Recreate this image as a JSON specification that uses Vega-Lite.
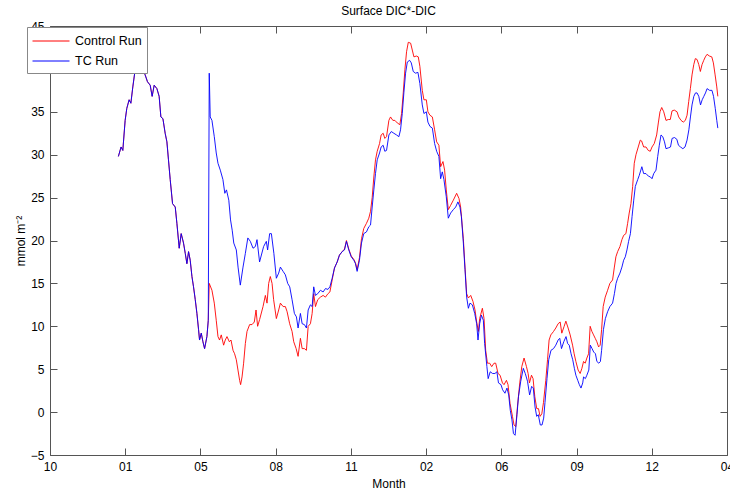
{
  "$schema": "https://vega.github.io/schema/vega-lite/v6.json",
  "width": 677,
  "height": 429,
  "autosize": {"type": "none"},
  "padding": {"left": 50, "top": 26, "right": 3, "bottom": 35},
  "background": "white",
  "title": {"text": "Surface DIC*-DIC", "fontSize": 12, "fontWeight": "normal", "font": "Liberation Sans", "color": "black", "offset": 2},
  "config": {"view": {"stroke": null}, "font": "Liberation Sans"},
  "data": {"values": [
    {"run":"Control Run","t":0.909,"v":29.8},{"run":"Control Run","t":0.945,"v":30.9},{"run":"Control Run","t":0.968,"v":30.5},{"run":"Control Run","t":0.999,"v":34.0},{"run":"Control Run","t":1.021,"v":35.4},{"run":"Control Run","t":1.052,"v":36.4},{"run":"Control Run","t":1.075,"v":36.0},{"run":"Control Run","t":1.101,"v":37.9},{"run":"Control Run","t":1.132,"v":39.9},{"run":"Control Run","t":1.165,"v":41.6},{"run":"Control Run","t":1.198,"v":41.9},{"run":"Control Run","t":1.234,"v":39.9},{"run":"Control Run","t":1.265,"v":39.3},{"run":"Control Run","t":1.296,"v":38.5},{"run":"Control Run","t":1.332,"v":38.1},{"run":"Control Run","t":1.358,"v":36.8},{"run":"Control Run","t":1.385,"v":38.1},{"run":"Control Run","t":1.421,"v":37.7},{"run":"Control Run","t":1.451,"v":36.8},{"run":"Control Run","t":1.474,"v":34.4},{"run":"Control Run","t":1.501,"v":34.2},{"run":"Control Run","t":1.531,"v":32.5},{"run":"Control Run","t":1.554,"v":31.5},{"run":"Control Run","t":1.575,"v":29.4},{"run":"Control Run","t":1.598,"v":27.1},{"run":"Control Run","t":1.629,"v":24.3},{"run":"Control Run","t":1.665,"v":23.9},{"run":"Control Run","t":1.687,"v":22.0},{"run":"Control Run","t":1.718,"v":19.1},{"run":"Control Run","t":1.744,"v":20.8},{"run":"Control Run","t":1.775,"v":19.7},{"run":"Control Run","t":1.798,"v":18.5},{"run":"Control Run","t":1.820,"v":17.3},{"run":"Control Run","t":1.842,"v":18.7},{"run":"Control Run","t":1.864,"v":17.7},{"run":"Control Run","t":1.887,"v":15.8},{"run":"Control Run","t":1.908,"v":14.6},{"run":"Control Run","t":1.931,"v":13.1},{"run":"Control Run","t":1.953,"v":11.5},{"run":"Control Run","t":1.975,"v":9.6},{"run":"Control Run","t":1.988,"v":8.4},{"run":"Control Run","t":2.011,"v":9.2},{"run":"Control Run","t":2.033,"v":8.2},{"run":"Control Run","t":2.055,"v":7.4},{"run":"Control Run","t":2.086,"v":8.8},{"run":"Control Run","t":2.104,"v":10.7},
    {"run":"Control Run","t":2.117,"v":15.0},{"run":"Control Run","t":2.153,"v":14.2},{"run":"Control Run","t":2.184,"v":12.7},{"run":"Control Run","t":2.210,"v":10.7},{"run":"Control Run","t":2.233,"v":8.8},{"run":"Control Run","t":2.254,"v":8.4},{"run":"Control Run","t":2.277,"v":9.0},{"run":"Control Run","t":2.308,"v":7.8},{"run":"Control Run","t":2.330,"v":8.4},{"run":"Control Run","t":2.353,"v":8.8},{"run":"Control Run","t":2.384,"v":8.2},{"run":"Control Run","t":2.406,"v":8.4},{"run":"Control Run","t":2.433,"v":7.2},{"run":"Control Run","t":2.454,"v":6.8},{"run":"Control Run","t":2.477,"v":6.1},{"run":"Control Run","t":2.499,"v":4.9},{"run":"Control Run","t":2.521,"v":3.7},{"run":"Control Run","t":2.534,"v":3.2},{"run":"Control Run","t":2.553,"v":4.1},{"run":"Control Run","t":2.574,"v":5.7},{"run":"Control Run","t":2.597,"v":8.0},{"run":"Control Run","t":2.619,"v":9.4},{"run":"Control Run","t":2.654,"v":10.2},{"run":"Control Run","t":2.686,"v":10.2},{"run":"Control Run","t":2.716,"v":10.5},{"run":"Control Run","t":2.739,"v":11.9},{"run":"Control Run","t":2.760,"v":10.0},{"run":"Control Run","t":2.787,"v":10.8},{"run":"Control Run","t":2.832,"v":12.3},{"run":"Control Run","t":2.863,"v":13.6},{"run":"Control Run","t":2.885,"v":12.7},{"run":"Control Run","t":2.907,"v":15.0},{"run":"Control Run","t":2.929,"v":15.8},{"run":"Control Run","t":2.952,"v":15.0},{"run":"Control Run","t":2.973,"v":13.1},{"run":"Control Run","t":3.009,"v":10.9},{"run":"Control Run","t":3.040,"v":11.9},{"run":"Control Run","t":3.063,"v":12.7},{"run":"Control Run","t":3.099,"v":12.3},{"run":"Control Run","t":3.129,"v":12.3},{"run":"Control Run","t":3.152,"v":11.7},{"run":"Control Run","t":3.186,"v":10.3},{"run":"Control Run","t":3.218,"v":9.4},{"run":"Control Run","t":3.240,"v":8.2},{"run":"Control Run","t":3.272,"v":7.4},{"run":"Control Run","t":3.298,"v":6.5},{"run":"Control Run","t":3.329,"v":8.6},{"run":"Control Run","t":3.352,"v":7.4},{"run":"Control Run","t":3.382,"v":7.4},{"run":"Control Run","t":3.409,"v":7.2},{"run":"Control Run","t":3.432,"v":10.0},{"run":"Control Run","t":3.462,"v":10.3},{"run":"Control Run","t":3.485,"v":11.5},{"run":"Control Run","t":3.506,"v":13.8},{"run":"Control Run","t":3.529,"v":12.3},{"run":"Control Run","t":3.559,"v":13.1},{"run":"Control Run","t":3.595,"v":13.4},{"run":"Control Run","t":3.631,"v":13.6},{"run":"Control Run","t":3.662,"v":13.4},{"run":"Control Run","t":3.695,"v":13.8},{"run":"Control Run","t":3.721,"v":14.0},{"run":"Control Run","t":3.751,"v":15.4},{"run":"Control Run","t":3.782,"v":16.8},{"run":"Control Run","t":3.818,"v":17.5},{"run":"Control Run","t":3.848,"v":18.3},{"run":"Control Run","t":3.884,"v":18.7},{"run":"Control Run","t":3.915,"v":19.0},{"run":"Control Run","t":3.941,"v":20.0},{"run":"Control Run","t":3.972,"v":19.0},{"run":"Control Run","t":4.004,"v":18.2},{"run":"Control Run","t":4.039,"v":17.8},{"run":"Control Run","t":4.061,"v":17.4},{"run":"Control Run","t":4.083,"v":16.6},{"run":"Control Run","t":4.114,"v":18.0},{"run":"Control Run","t":4.141,"v":20.2},{"run":"Control Run","t":4.171,"v":21.4},{"run":"Control Run","t":4.207,"v":22.0},{"run":"Control Run","t":4.238,"v":22.6},{"run":"Control Run","t":4.261,"v":23.4},{"run":"Control Run","t":4.283,"v":25.0},{"run":"Control Run","t":4.305,"v":27.4},{"run":"Control Run","t":4.327,"v":29.4},{"run":"Control Run","t":4.350,"v":30.4},{"run":"Control Run","t":4.381,"v":31.3},{"run":"Control Run","t":4.402,"v":32.3},{"run":"Control Run","t":4.429,"v":32.5},{"run":"Control Run","t":4.451,"v":31.9},{"run":"Control Run","t":4.474,"v":32.1},{"run":"Control Run","t":4.505,"v":34.0},{"run":"Control Run","t":4.527,"v":34.4},{"run":"Control Run","t":4.558,"v":34.0},{"run":"Control Run","t":4.585,"v":34.0},{"run":"Control Run","t":4.617,"v":33.7},{"run":"Control Run","t":4.651,"v":33.5},{"run":"Control Run","t":4.674,"v":34.8},{"run":"Control Run","t":4.696,"v":37.2},{"run":"Control Run","t":4.718,"v":39.9},{"run":"Control Run","t":4.740,"v":42.0},{"run":"Control Run","t":4.763,"v":43.1},{"run":"Control Run","t":4.794,"v":43.0},{"run":"Control Run","t":4.816,"v":42.2},{"run":"Control Run","t":4.838,"v":41.4},{"run":"Control Run","t":4.870,"v":41.5},{"run":"Control Run","t":4.896,"v":41.4},{"run":"Control Run","t":4.917,"v":40.3},{"run":"Control Run","t":4.949,"v":37.5},{"run":"Control Run","t":4.971,"v":36.4},{"run":"Control Run","t":5.003,"v":36.4},{"run":"Control Run","t":5.024,"v":35.0},{"run":"Control Run","t":5.051,"v":34.6},{"run":"Control Run","t":5.083,"v":34.4},{"run":"Control Run","t":5.113,"v":32.9},{"run":"Control Run","t":5.140,"v":31.5},{"run":"Control Run","t":5.170,"v":31.1},{"run":"Control Run","t":5.193,"v":28.6},{"run":"Control Run","t":5.224,"v":29.2},{"run":"Control Run","t":5.246,"v":28.2},{"run":"Control Run","t":5.268,"v":25.9},{"run":"Control Run","t":5.295,"v":23.6},{"run":"Control Run","t":5.326,"v":24.1},{"run":"Control Run","t":5.362,"v":24.7},{"run":"Control Run","t":5.406,"v":25.5},{"run":"Control Run","t":5.437,"v":24.9},{"run":"Control Run","t":5.459,"v":23.9},{"run":"Control Run","t":5.495,"v":20.2},{"run":"Control Run","t":5.517,"v":16.9},{"run":"Control Run","t":5.539,"v":13.8},{"run":"Control Run","t":5.562,"v":13.3},{"run":"Control Run","t":5.593,"v":13.6},{"run":"Control Run","t":5.623,"v":12.9},{"run":"Control Run","t":5.650,"v":11.9},{"run":"Control Run","t":5.672,"v":10.5},{"run":"Control Run","t":5.695,"v":9.4},{"run":"Control Run","t":5.712,"v":10.9},{"run":"Control Run","t":5.748,"v":12.1},{"run":"Control Run","t":5.770,"v":10.9},{"run":"Control Run","t":5.792,"v":7.2},{"run":"Control Run","t":5.815,"v":5.7},{"run":"Control Run","t":5.845,"v":5.7},{"run":"Control Run","t":5.872,"v":5.3},{"run":"Control Run","t":5.903,"v":5.7},{"run":"Control Run","t":5.925,"v":5.7},{"run":"Control Run","t":5.956,"v":4.5},{"run":"Control Run","t":5.983,"v":4.3},{"run":"Control Run","t":6.015,"v":3.4},{"run":"Control Run","t":6.036,"v":3.2},{"run":"Control Run","t":6.068,"v":3.7},{"run":"Control Run","t":6.089,"v":3.2},{"run":"Control Run","t":6.116,"v":1.0},{"run":"Control Run","t":6.148,"v":-0.5},{"run":"Control Run","t":6.169,"v":-1.5},{"run":"Control Run","t":6.192,"v":-1.7},{"run":"Control Run","t":6.214,"v":0.6},{"run":"Control Run","t":6.245,"v":3.4},{"run":"Control Run","t":6.272,"v":5.3},{"run":"Control Run","t":6.302,"v":6.3},{"run":"Control Run","t":6.334,"v":5.3},{"run":"Control Run","t":6.356,"v":4.5},{"run":"Control Run","t":6.374,"v":3.4},{"run":"Control Run","t":6.401,"v":4.3},{"run":"Control Run","t":6.422,"v":3.9},{"run":"Control Run","t":6.445,"v":1.8},{"run":"Control Run","t":6.471,"v":0.4},{"run":"Control Run","t":6.494,"v":0.4},{"run":"Control Run","t":6.515,"v":-0.5},{"run":"Control Run","t":6.538,"v":-0.2},{"run":"Control Run","t":6.560,"v":1.1},{"run":"Control Run","t":6.591,"v":3.7},{"run":"Control Run","t":6.614,"v":6.1},{"run":"Control Run","t":6.635,"v":8.4},{"run":"Control Run","t":6.658,"v":9.0},{"run":"Control Run","t":6.694,"v":9.4},{"run":"Control Run","t":6.724,"v":9.8},{"run":"Control Run","t":6.755,"v":10.3},{"run":"Control Run","t":6.782,"v":10.5},{"run":"Control Run","t":6.804,"v":9.2},{"run":"Control Run","t":6.835,"v":10.0},{"run":"Control Run","t":6.858,"v":10.6},{"run":"Control Run","t":6.888,"v":9.8},{"run":"Control Run","t":6.915,"v":9.0},{"run":"Control Run","t":6.947,"v":7.8},{"run":"Control Run","t":6.968,"v":6.8},{"run":"Control Run","t":6.991,"v":5.9},{"run":"Control Run","t":7.021,"v":4.9},{"run":"Control Run","t":7.048,"v":4.5},{"run":"Control Run","t":7.071,"v":5.1},{"run":"Control Run","t":7.093,"v":5.9},{"run":"Control Run","t":7.115,"v":5.7},{"run":"Control Run","t":7.137,"v":6.3},{"run":"Control Run","t":7.160,"v":6.8},{"run":"Control Run","t":7.181,"v":10.0},{"run":"Control Run","t":7.204,"v":9.4},{"run":"Control Run","t":7.226,"v":9.0},{"run":"Control Run","t":7.248,"v":8.6},{"run":"Control Run","t":7.270,"v":8.2},{"run":"Control Run","t":7.293,"v":7.6},{"run":"Control Run","t":7.314,"v":7.8},{"run":"Control Run","t":7.333,"v":9.6},{"run":"Control Run","t":7.354,"v":12.3},{"run":"Control Run","t":7.381,"v":13.4},{"run":"Control Run","t":7.413,"v":14.2},{"run":"Control Run","t":7.443,"v":15.0},{"run":"Control Run","t":7.479,"v":15.4},{"run":"Control Run","t":7.501,"v":16.8},{"run":"Control Run","t":7.523,"v":18.1},{"run":"Control Run","t":7.546,"v":18.7},{"run":"Control Run","t":7.577,"v":19.3},{"run":"Control Run","t":7.603,"v":20.1},{"run":"Control Run","t":7.626,"v":20.6},{"run":"Control Run","t":7.656,"v":20.8},{"run":"Control Run","t":7.679,"v":22.0},{"run":"Control Run","t":7.700,"v":23.2},{"run":"Control Run","t":7.723,"v":24.3},{"run":"Control Run","t":7.746,"v":26.3},{"run":"Control Run","t":7.767,"v":29.0},{"run":"Control Run","t":7.790,"v":30.0},{"run":"Control Run","t":7.820,"v":30.9},{"run":"Control Run","t":7.847,"v":31.7},{"run":"Control Run","t":7.865,"v":31.6},{"run":"Control Run","t":7.892,"v":30.9},{"run":"Control Run","t":7.923,"v":30.9},{"run":"Control Run","t":7.953,"v":30.5},{"run":"Control Run","t":7.980,"v":30.4},{"run":"Control Run","t":8.003,"v":30.9},{"run":"Control Run","t":8.033,"v":31.3},{"run":"Control Run","t":8.065,"v":32.3},{"run":"Control Run","t":8.087,"v":33.7},{"run":"Control Run","t":8.109,"v":35.0},{"run":"Control Run","t":8.132,"v":35.5},{"run":"Control Run","t":8.159,"v":35.0},{"run":"Control Run","t":8.189,"v":34.0},{"run":"Control Run","t":8.220,"v":34.1},{"run":"Control Run","t":8.246,"v":34.1},{"run":"Control Run","t":8.269,"v":35.1},{"run":"Control Run","t":8.299,"v":35.2},{"run":"Control Run","t":8.336,"v":35.0},{"run":"Control Run","t":8.358,"v":34.4},{"run":"Control Run","t":8.389,"v":34.0},{"run":"Control Run","t":8.419,"v":33.8},{"run":"Control Run","t":8.446,"v":34.0},{"run":"Control Run","t":8.469,"v":34.6},{"run":"Control Run","t":8.491,"v":36.2},{"run":"Control Run","t":8.513,"v":37.7},{"run":"Control Run","t":8.535,"v":39.3},{"run":"Control Run","t":8.558,"v":40.5},{"run":"Control Run","t":8.579,"v":41.2},{"run":"Control Run","t":8.602,"v":41.1},{"run":"Control Run","t":8.625,"v":40.5},{"run":"Control Run","t":8.646,"v":39.7},{"run":"Control Run","t":8.668,"v":40.5},{"run":"Control Run","t":8.691,"v":41.0},{"run":"Control Run","t":8.712,"v":41.4},{"run":"Control Run","t":8.735,"v":41.7},{"run":"Control Run","t":8.766,"v":41.5},{"run":"Control Run","t":8.798,"v":41.4},{"run":"Control Run","t":8.819,"v":40.7},{"run":"Control Run","t":8.842,"v":39.3},{"run":"Control Run","t":8.864,"v":37.9},{"run":"Control Run","t":8.878,"v":36.8},
    {"run":"TC Run","t":0.909,"v":29.8},{"run":"TC Run","t":0.945,"v":30.9},{"run":"TC Run","t":0.968,"v":30.5},{"run":"TC Run","t":0.999,"v":34.0},{"run":"TC Run","t":1.021,"v":35.4},{"run":"TC Run","t":1.052,"v":36.4},{"run":"TC Run","t":1.075,"v":36.0},{"run":"TC Run","t":1.101,"v":37.9},{"run":"TC Run","t":1.132,"v":39.9},{"run":"TC Run","t":1.165,"v":41.6},{"run":"TC Run","t":1.198,"v":41.9},{"run":"TC Run","t":1.234,"v":39.9},{"run":"TC Run","t":1.265,"v":39.3},{"run":"TC Run","t":1.296,"v":38.5},{"run":"TC Run","t":1.332,"v":38.1},{"run":"TC Run","t":1.358,"v":36.8},{"run":"TC Run","t":1.385,"v":38.1},{"run":"TC Run","t":1.421,"v":37.7},{"run":"TC Run","t":1.451,"v":36.8},{"run":"TC Run","t":1.474,"v":34.4},{"run":"TC Run","t":1.501,"v":34.2},{"run":"TC Run","t":1.531,"v":32.5},{"run":"TC Run","t":1.554,"v":31.5},{"run":"TC Run","t":1.575,"v":29.4},{"run":"TC Run","t":1.598,"v":27.1},{"run":"TC Run","t":1.629,"v":24.3},{"run":"TC Run","t":1.665,"v":23.9},{"run":"TC Run","t":1.687,"v":22.0},{"run":"TC Run","t":1.718,"v":19.1},{"run":"TC Run","t":1.744,"v":20.8},{"run":"TC Run","t":1.775,"v":19.7},{"run":"TC Run","t":1.798,"v":18.5},{"run":"TC Run","t":1.820,"v":17.3},{"run":"TC Run","t":1.842,"v":18.7},{"run":"TC Run","t":1.864,"v":17.7},{"run":"TC Run","t":1.887,"v":15.8},{"run":"TC Run","t":1.908,"v":14.6},{"run":"TC Run","t":1.931,"v":13.1},{"run":"TC Run","t":1.953,"v":11.5},{"run":"TC Run","t":1.975,"v":9.6},{"run":"TC Run","t":1.988,"v":8.4},{"run":"TC Run","t":2.011,"v":9.2},{"run":"TC Run","t":2.033,"v":8.2},{"run":"TC Run","t":2.055,"v":7.4},{"run":"TC Run","t":2.086,"v":8.8},{"run":"TC Run","t":2.104,"v":10.7},
    {"run":"TC Run","t":2.117,"v":39.5},{"run":"TC Run","t":2.130,"v":34.4},{"run":"TC Run","t":2.153,"v":34.0},{"run":"TC Run","t":2.184,"v":32.1},{"run":"TC Run","t":2.210,"v":30.2},{"run":"TC Run","t":2.233,"v":29.0},{"run":"TC Run","t":2.264,"v":28.2},{"run":"TC Run","t":2.299,"v":27.1},{"run":"TC Run","t":2.324,"v":25.5},{"run":"TC Run","t":2.346,"v":25.9},{"run":"TC Run","t":2.377,"v":24.7},{"run":"TC Run","t":2.400,"v":22.4},{"run":"TC Run","t":2.422,"v":21.2},{"run":"TC Run","t":2.443,"v":19.7},{"run":"TC Run","t":2.477,"v":18.9},{"run":"TC Run","t":2.500,"v":16.9},{"run":"TC Run","t":2.530,"v":14.8},{"run":"TC Run","t":2.566,"v":16.9},{"run":"TC Run","t":2.597,"v":18.5},{"run":"TC Run","t":2.630,"v":20.3},{"run":"TC Run","t":2.663,"v":19.9},{"run":"TC Run","t":2.699,"v":19.1},{"run":"TC Run","t":2.730,"v":19.3},{"run":"TC Run","t":2.752,"v":20.1},{"run":"TC Run","t":2.786,"v":17.5},{"run":"TC Run","t":2.840,"v":19.3},{"run":"TC Run","t":2.876,"v":19.9},{"run":"TC Run","t":2.893,"v":18.9},{"run":"TC Run","t":2.920,"v":20.8},{"run":"TC Run","t":2.943,"v":20.8},{"run":"TC Run","t":2.976,"v":18.5},{"run":"TC Run","t":3.009,"v":15.6},{"run":"TC Run","t":3.040,"v":16.2},{"run":"TC Run","t":3.063,"v":16.9},{"run":"TC Run","t":3.099,"v":16.4},{"run":"TC Run","t":3.129,"v":16.0},{"run":"TC Run","t":3.160,"v":15.0},{"run":"TC Run","t":3.187,"v":14.6},{"run":"TC Run","t":3.218,"v":13.1},{"run":"TC Run","t":3.249,"v":11.5},{"run":"TC Run","t":3.276,"v":11.1},{"run":"TC Run","t":3.298,"v":9.8},{"run":"TC Run","t":3.329,"v":11.5},{"run":"TC Run","t":3.352,"v":10.3},{"run":"TC Run","t":3.382,"v":10.2},{"run":"TC Run","t":3.409,"v":9.8},{"run":"TC Run","t":3.432,"v":11.9},{"run":"TC Run","t":3.462,"v":12.5},{"run":"TC Run","t":3.485,"v":12.3},{"run":"TC Run","t":3.506,"v":14.6},{"run":"TC Run","t":3.529,"v":13.6},{"run":"TC Run","t":3.559,"v":13.8},{"run":"TC Run","t":3.595,"v":14.2},{"run":"TC Run","t":3.631,"v":14.0},{"run":"TC Run","t":3.662,"v":14.4},{"run":"TC Run","t":3.695,"v":14.3},{"run":"TC Run","t":3.721,"v":14.6},{"run":"TC Run","t":3.751,"v":15.6},{"run":"TC Run","t":3.782,"v":16.8},{"run":"TC Run","t":3.818,"v":17.5},{"run":"TC Run","t":3.848,"v":18.3},{"run":"TC Run","t":3.884,"v":18.7},{"run":"TC Run","t":3.915,"v":18.9},{"run":"TC Run","t":3.941,"v":19.9},{"run":"TC Run","t":3.972,"v":18.9},{"run":"TC Run","t":4.004,"v":18.1},{"run":"TC Run","t":4.039,"v":17.7},{"run":"TC Run","t":4.061,"v":17.3},{"run":"TC Run","t":4.083,"v":16.4},{"run":"TC Run","t":4.114,"v":17.7},{"run":"TC Run","t":4.141,"v":19.7},{"run":"TC Run","t":4.171,"v":20.8},{"run":"TC Run","t":4.207,"v":21.0},{"run":"TC Run","t":4.238,"v":21.6},{"run":"TC Run","t":4.261,"v":21.8},{"run":"TC Run","t":4.283,"v":23.9},{"run":"TC Run","t":4.305,"v":25.9},{"run":"TC Run","t":4.327,"v":27.8},{"run":"TC Run","t":4.350,"v":29.4},{"run":"TC Run","t":4.381,"v":30.2},{"run":"TC Run","t":4.402,"v":30.9},{"run":"TC Run","t":4.429,"v":31.1},{"run":"TC Run","t":4.451,"v":30.4},{"run":"TC Run","t":4.474,"v":30.5},{"run":"TC Run","t":4.505,"v":32.3},{"run":"TC Run","t":4.537,"v":32.7},{"run":"TC Run","t":4.571,"v":32.5},{"run":"TC Run","t":4.607,"v":32.3},{"run":"TC Run","t":4.638,"v":32.1},{"run":"TC Run","t":4.660,"v":32.9},{"run":"TC Run","t":4.683,"v":34.8},{"run":"TC Run","t":4.704,"v":37.2},{"run":"TC Run","t":4.727,"v":39.5},{"run":"TC Run","t":4.750,"v":40.8},{"run":"TC Run","t":4.781,"v":41.0},{"run":"TC Run","t":4.803,"v":40.7},{"run":"TC Run","t":4.829,"v":39.7},{"run":"TC Run","t":4.860,"v":39.5},{"run":"TC Run","t":4.891,"v":39.6},{"run":"TC Run","t":4.917,"v":38.3},{"run":"TC Run","t":4.949,"v":35.8},{"run":"TC Run","t":4.971,"v":34.8},{"run":"TC Run","t":5.003,"v":35.0},{"run":"TC Run","t":5.024,"v":33.8},{"run":"TC Run","t":5.051,"v":33.3},{"run":"TC Run","t":5.083,"v":33.1},{"run":"TC Run","t":5.113,"v":31.3},{"run":"TC Run","t":5.140,"v":30.4},{"run":"TC Run","t":5.170,"v":29.8},{"run":"TC Run","t":5.193,"v":27.2},{"run":"TC Run","t":5.215,"v":28.0},{"run":"TC Run","t":5.237,"v":27.1},{"run":"TC Run","t":5.268,"v":25.1},{"run":"TC Run","t":5.295,"v":22.6},{"run":"TC Run","t":5.326,"v":23.2},{"run":"TC Run","t":5.362,"v":23.6},{"run":"TC Run","t":5.393,"v":23.9},{"run":"TC Run","t":5.423,"v":24.5},{"run":"TC Run","t":5.450,"v":23.9},{"run":"TC Run","t":5.469,"v":22.8},{"run":"TC Run","t":5.495,"v":19.7},{"run":"TC Run","t":5.517,"v":16.6},{"run":"TC Run","t":5.539,"v":13.4},{"run":"TC Run","t":5.562,"v":12.1},{"run":"TC Run","t":5.583,"v":12.7},{"run":"TC Run","t":5.615,"v":12.5},{"run":"TC Run","t":5.646,"v":11.5},{"run":"TC Run","t":5.672,"v":10.3},{"run":"TC Run","t":5.690,"v":8.4},{"run":"TC Run","t":5.712,"v":10.3},{"run":"TC Run","t":5.735,"v":11.3},{"run":"TC Run","t":5.761,"v":10.7},{"run":"TC Run","t":5.778,"v":8.0},{"run":"TC Run","t":5.808,"v":5.3},{"run":"TC Run","t":5.825,"v":3.9},{"run":"TC Run","t":5.852,"v":4.7},{"run":"TC Run","t":5.884,"v":4.5},{"run":"TC Run","t":5.915,"v":4.5},{"run":"TC Run","t":5.941,"v":4.7},{"run":"TC Run","t":5.962,"v":3.4},{"run":"TC Run","t":5.995,"v":3.2},{"run":"TC Run","t":6.017,"v":2.6},{"run":"TC Run","t":6.048,"v":2.2},{"run":"TC Run","t":6.075,"v":2.8},{"run":"TC Run","t":6.098,"v":2.0},{"run":"TC Run","t":6.119,"v":0.2},{"run":"TC Run","t":6.141,"v":-0.9},{"run":"TC Run","t":6.161,"v":-2.5},{"run":"TC Run","t":6.183,"v":-2.7},{"run":"TC Run","t":6.208,"v":-0.3},{"run":"TC Run","t":6.228,"v":1.8},{"run":"TC Run","t":6.258,"v":3.6},{"run":"TC Run","t":6.292,"v":5.1},{"run":"TC Run","t":6.318,"v":4.5},{"run":"TC Run","t":6.348,"v":3.6},{"run":"TC Run","t":6.376,"v":2.0},{"run":"TC Run","t":6.403,"v":3.0},{"run":"TC Run","t":6.425,"v":2.8},{"run":"TC Run","t":6.448,"v":0.6},{"run":"TC Run","t":6.470,"v":-0.5},{"run":"TC Run","t":6.491,"v":-0.3},{"run":"TC Run","t":6.518,"v":-1.5},{"run":"TC Run","t":6.541,"v":-1.5},{"run":"TC Run","t":6.563,"v":-0.7},{"run":"TC Run","t":6.580,"v":1.1},{"run":"TC Run","t":6.607,"v":3.9},{"run":"TC Run","t":6.630,"v":6.1},{"run":"TC Run","t":6.660,"v":7.2},{"run":"TC Run","t":6.694,"v":7.4},{"run":"TC Run","t":6.724,"v":7.8},{"run":"TC Run","t":6.755,"v":8.4},{"run":"TC Run","t":6.777,"v":8.6},{"run":"TC Run","t":6.800,"v":7.4},{"run":"TC Run","t":6.830,"v":8.2},{"run":"TC Run","t":6.860,"v":8.8},{"run":"TC Run","t":6.881,"v":8.0},{"run":"TC Run","t":6.903,"v":7.8},{"run":"TC Run","t":6.927,"v":6.8},{"run":"TC Run","t":6.949,"v":6.1},{"run":"TC Run","t":6.971,"v":5.1},{"run":"TC Run","t":6.991,"v":4.3},{"run":"TC Run","t":7.016,"v":3.7},{"run":"TC Run","t":7.037,"v":3.2},{"run":"TC Run","t":7.059,"v":2.8},{"run":"TC Run","t":7.082,"v":3.4},{"run":"TC Run","t":7.093,"v":4.1},{"run":"TC Run","t":7.117,"v":3.9},{"run":"TC Run","t":7.137,"v":4.3},{"run":"TC Run","t":7.163,"v":4.9},{"run":"TC Run","t":7.183,"v":7.8},{"run":"TC Run","t":7.206,"v":7.4},{"run":"TC Run","t":7.228,"v":7.0},{"run":"TC Run","t":7.251,"v":6.8},{"run":"TC Run","t":7.270,"v":5.9},{"run":"TC Run","t":7.296,"v":5.7},{"run":"TC Run","t":7.317,"v":5.9},{"run":"TC Run","t":7.333,"v":7.2},{"run":"TC Run","t":7.357,"v":9.6},{"run":"TC Run","t":7.383,"v":10.9},{"run":"TC Run","t":7.413,"v":11.7},{"run":"TC Run","t":7.443,"v":12.3},{"run":"TC Run","t":7.479,"v":12.7},{"run":"TC Run","t":7.503,"v":13.8},{"run":"TC Run","t":7.525,"v":15.0},{"run":"TC Run","t":7.546,"v":15.6},{"run":"TC Run","t":7.577,"v":16.2},{"run":"TC Run","t":7.603,"v":16.9},{"run":"TC Run","t":7.626,"v":17.7},{"run":"TC Run","t":7.648,"v":18.1},{"run":"TC Run","t":7.670,"v":18.9},{"run":"TC Run","t":7.692,"v":19.9},{"run":"TC Run","t":7.716,"v":20.8},{"run":"TC Run","t":7.738,"v":22.8},{"run":"TC Run","t":7.760,"v":24.7},{"run":"TC Run","t":7.781,"v":26.3},{"run":"TC Run","t":7.813,"v":27.1},{"run":"TC Run","t":7.834,"v":27.6},{"run":"TC Run","t":7.868,"v":28.6},{"run":"TC Run","t":7.892,"v":27.8},{"run":"TC Run","t":7.923,"v":27.8},{"run":"TC Run","t":7.955,"v":27.5},{"run":"TC Run","t":7.983,"v":27.4},{"run":"TC Run","t":8.003,"v":27.2},{"run":"TC Run","t":8.026,"v":27.8},{"run":"TC Run","t":8.056,"v":28.2},{"run":"TC Run","t":8.079,"v":29.8},{"run":"TC Run","t":8.100,"v":31.1},{"run":"TC Run","t":8.123,"v":32.3},{"run":"TC Run","t":8.146,"v":32.1},{"run":"TC Run","t":8.169,"v":31.5},{"run":"TC Run","t":8.189,"v":30.7},{"run":"TC Run","t":8.222,"v":30.8},{"run":"TC Run","t":8.249,"v":30.9},{"run":"TC Run","t":8.270,"v":31.9},{"run":"TC Run","t":8.302,"v":32.0},{"run":"TC Run","t":8.333,"v":31.8},{"run":"TC Run","t":8.355,"v":31.1},{"run":"TC Run","t":8.382,"v":30.9},{"run":"TC Run","t":8.413,"v":30.7},{"run":"TC Run","t":8.442,"v":30.9},{"run":"TC Run","t":8.469,"v":31.7},{"run":"TC Run","t":8.493,"v":32.9},{"run":"TC Run","t":8.514,"v":34.4},{"run":"TC Run","t":8.535,"v":35.8},{"run":"TC Run","t":8.559,"v":36.8},{"run":"TC Run","t":8.581,"v":37.2},{"run":"TC Run","t":8.602,"v":37.2},{"run":"TC Run","t":8.625,"v":36.8},{"run":"TC Run","t":8.648,"v":35.8},{"run":"TC Run","t":8.670,"v":36.4},{"run":"TC Run","t":8.692,"v":36.8},{"run":"TC Run","t":8.714,"v":37.2},{"run":"TC Run","t":8.735,"v":37.7},{"run":"TC Run","t":8.768,"v":37.5},{"run":"TC Run","t":8.800,"v":37.5},{"run":"TC Run","t":8.821,"v":36.8},{"run":"TC Run","t":8.844,"v":35.4},{"run":"TC Run","t":8.864,"v":34.0},{"run":"TC Run","t":8.878,"v":33.1}
  ]},
  "layer": [
    {
      "transform": [{"filter": "datum.run === 'Control Run'"}],
      "mark": {"type": "line", "strokeWidth": 0.9, "clip": true},
      "encoding": {
        "x": {"field": "t", "type": "quantitative", "scale": {"domain": [0, 9], "nice": false, "zero": false},
          "axis": {"orient": "bottom", "values": [0,1,2,3,4,5,6,7,8,9], "labelExpr": "['10','01','05','08','11','02','06','09','12','04'][datum.value]", "tickSize": -7, "domainColor": "#555", "tickColor": "#555", "labelColor": "black", "labelFontSize": 12, "labelFont": "Liberation Sans", "labelPadding": 13, "labelFlush": false, "labelOverlap": false, "labelBound": false, "grid": false, "title": "Month", "titleFont": "Liberation Sans", "titleFontSize": 12, "titleFontWeight": "normal", "titleColor": "black", "titlePadding": 6}},
        "y": {"field": "v", "type": "quantitative", "scale": {"domain": [-5, 45], "nice": false, "zero": false},
          "axis": {"orient": "left", "values": [-5,0,5,10,15,20,25,30,35,40,45], "tickSize": -7, "domainColor": "#555", "tickColor": "#555", "labelColor": "black", "labelFontSize": 12, "labelFont": "Liberation Sans", "labelPadding": 13, "labelFlush": false, "labelOverlap": false, "labelBound": false, "grid": false, "title": "mmol m⁻²", "titleFont": "Liberation Sans", "titleFontSize": 12, "titleFontWeight": "normal", "titleColor": "black", "titlePadding": 3}},
        "color": {"field": "run", "type": "nominal", "scale": {"domain": ["Control Run", "TC Run"], "range": ["#ff0000", "#0000ff"]},
          "legend": {"title": null, "orient": "none", "legendX": -23, "legendY": 1, "direction": "vertical", "symbolType": "stroke", "symbolSize": 1369, "symbolStrokeWidth": 1, "labelFontSize": 12.5, "labelFont": "Liberation Sans", "labelColor": "black", "fillColor": "white", "strokeColor": "#888", "padding": 5, "labelOffset": 5, "rowPadding": 4,
            "encode": {"symbols": {"update": {"y": {"value": 9}}}, "labels": {"update": {"y": {"value": 9}}}}}}
      }
    },
    {
      "transform": [{"filter": "datum.run === 'TC Run'"}],
      "mark": {"type": "line", "strokeWidth": 0.9, "clip": true},
      "encoding": {
        "x": {"field": "t", "type": "quantitative", "scale": {"domain": [0, 9], "nice": false, "zero": false},
          "axis": {"orient": "top", "values": [0,1,2,3,4,5,6,7,8,9], "tickSize": -7, "domainColor": "#555", "tickColor": "#555", "labels": false, "grid": false, "title": null}},
        "y": {"field": "v", "type": "quantitative", "scale": {"domain": [-5, 45], "nice": false, "zero": false},
          "axis": {"orient": "right", "values": [-5,0,5,10,15,20,25,30,35,40,45], "tickSize": -7, "domainColor": "#555", "tickColor": "#555", "labels": false, "grid": false, "title": null}},
        "color": {"field": "run", "type": "nominal", "scale": {"domain": ["Control Run", "TC Run"], "range": ["#ff0000", "#0000ff"]}}
      }
    }
  ],
  "resolve": {"axis": {"x": "independent", "y": "independent"}}
}
